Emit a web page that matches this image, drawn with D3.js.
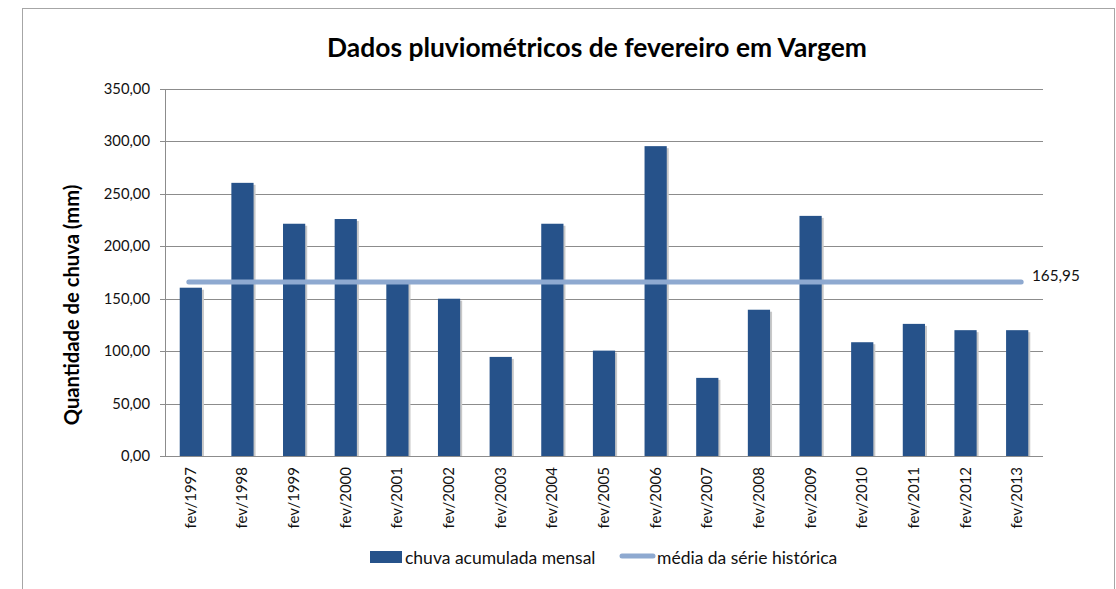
<!DOCTYPE html>
<meta charset="utf-8">
<style>
body{
  margin: 0;
  background: white;
  font-family: Lato, "Open Sans", sans-serif;
}
</style>
<div id='chart'></div>
<script src="https://cdn.jsdelivr.net/npm/d3@7"></script>
<script>

var years = ['fev/1997','fev/1998','fev/1999','fev/2000','fev/2001','fev/2002','fev/2003','fev/2004','fev/2005',
             'fev/2006','fev/2007','fev/2008','fev/2009','fev/2010','fev/2011','fev/2012','fev/2013']
var chuva = [160.5, 260.5, 221.5, 226, 167.5, 150, 94.5, 221.5, 100.5, 295.5, 74.5, 139.5, 229, 108.5, 126, 120, 120]
var media = 165.95
var yTicks = [0, 50, 100, 150, 200, 250, 300, 350]

var W = 1116, H = 589
var m = {left: 165, right: 1043, top: 89, bottom: 456}

var fmt = function(d){ return d3.format('.2f')(d).replace('.', ',') }

var svg = d3.select('#chart').append('svg')
    .attr('width', W).attr('height', H)

svg.append('rect')
    .attr('x', 22.5).attr('y', 8.5).attr('width', 1092).attr('height', 620)
    .style('fill', 'white').style('stroke', '#a6a6a6')

var x = d3.scaleBand().domain(years).range([m.left, m.right]).paddingInner(0.57).paddingOuter(0.285)
var y = d3.scaleLinear().domain([0, 350]).range([m.bottom, m.top])

// grid
svg.append('g').selectAll('line').data(yTicks).enter().append('line')
    .attr('x1', m.left - 5).attr('x2', m.right)
    .attr('y1', function(d){ return Math.round(y(d)) + 0.5 })
    .attr('y2', function(d){ return Math.round(y(d)) + 0.5 })
    .style('stroke', '#8c8c8c')

svg.append('line')
    .attr('x1', m.left + 0.5).attr('x2', m.left + 0.5)
    .attr('y1', m.top).attr('y2', m.bottom + 1)
    .style('stroke', '#8c8c8c')

svg.append('g').selectAll('text').data(yTicks).enter().append('text')
    .attr('x', 150).attr('y', function(d){ return y(d) + 5 })
    .attr('text-anchor', 'end')
    .style('font-size', '14.8px').style('fill', '#111')
    .text(fmt)

// bars
var bars = svg.append('g').selectAll('g').data(chuva).enter().append('g')
bars.append('rect')
    .attr('x', function(d, i){ return x(years[i]) + 2 })
    .attr('y', function(d){ return y(d) + 2 })
    .attr('width', x.bandwidth())
    .attr('height', function(d){ return y(0) - y(d) - 2 })
    .style('fill', '#c8c8c8')
bars.append('rect')
    .attr('x', function(d, i){ return x(years[i]) })
    .attr('y', function(d){ return y(d) })
    .attr('width', x.bandwidth())
    .attr('height', function(d){ return y(0) - y(d) })
    .style('fill', '#26528a')

// mean line
var cx = function(i){ return x(years[i]) + x.bandwidth() / 2 }
svg.append('line')
    .attr('x1', cx(0) - 2).attr('x2', cx(years.length - 1) + 4)
    .attr('y1', y(media)).attr('y2', y(media))
    .style('stroke', '#8ea9d0').style('stroke-width', 5).style('stroke-linecap', 'round')

svg.append('text')
    .attr('x', 1032).attr('y', y(media) - 1)
    .style('font-size', '15.3px').style('fill', '#111')
    .text(fmt(media))

// x labels
svg.append('g').selectAll('text').data(years).enter().append('text')
    .attr('transform', function(d){ return 'translate(' + (x(d) + x.bandwidth() / 2 + 5) + ',' + 467 + ') rotate(-90)' })
    .attr('text-anchor', 'end')
    .style('font-size', '15px').style('fill', '#111')
    .text(function(d){ return d })

// titles
svg.append('text')
    .attr('x', 597).attr('y', 57)
    .attr('text-anchor', 'middle')
    .style('font-size', '26.4px').style('font-weight', 'bold').style('fill', '#000')
    .text('Dados pluviométricos de fevereiro em Vargem')

svg.append('text')
    .attr('transform', 'translate(79,305) rotate(-90)')
    .attr('text-anchor', 'middle')
    .style('font-size', '20.2px').style('font-weight', 'bold').style('fill', '#000')
    .text('Quantidade de chuva (mm)')

// legend
svg.append('rect')
    .attr('x', 370).attr('y', 551).attr('width', 32).attr('height', 12)
    .style('fill', '#26528a')
svg.append('text')
    .attr('x', 405).attr('y', 564)
    .style('font-size', '17.5px').style('fill', '#111')
    .text('chuva acumulada mensal')
svg.append('line')
    .attr('x1', 622).attr('x2', 653).attr('y1', 556).attr('y2', 556)
    .style('stroke', '#8ea9d0').style('stroke-width', 5).style('stroke-linecap', 'round')
svg.append('text')
    .attr('x', 657).attr('y', 564)
    .style('font-size', '17.5px').style('fill', '#111')
    .text('média da série histórica')

</script>
